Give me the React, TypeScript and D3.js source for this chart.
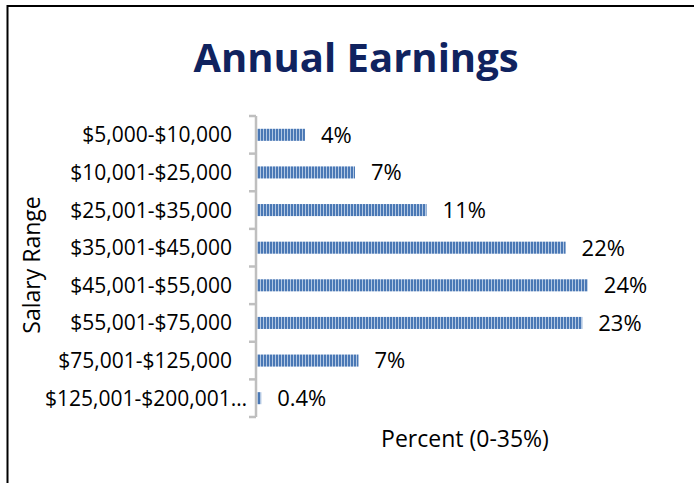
import * as d3 from "d3";
import { useEffect, useRef } from "react";

// data (bar lengths estimated, labels as shown)
const categories = [
  "$5,000-$10,000",
  "$10,001-$25,000",
  "$25,001-$35,000",
  "$35,001-$45,000",
  "$45,001-$55,000",
  "$55,001-$75,000",
  "$75,001-$125,000",
  "$125,001-$200,001…",
];
const values = [3.45, 7.05, 12.2, 22.2, 23.8, 23.4, 7.3, 0.3];
const valueLabels = ["4%", "7%", "11%", "22%", "24%", "23%", "7%", "0.4%"];

const W = 694;
const H = 483;
const FONT = "'Open Sans', 'Noto Sans', sans-serif";

const App = () => {
  const ref = useRef<SVGSVGElement | null>(null);

  useEffect(() => {
    const svg = d3.select(ref.current);
    svg.selectAll("*").remove();

    const x = d3.scaleLinear().domain([0, 30]).range([257, 257 + 30 * 13.9]);
    const y = d3
      .scaleBand()
      .domain(categories)
      .range([116, 417])
      .paddingInner(0.68)
      .paddingOuter(0.34);

    const defs = svg.append("defs");
    const pat = defs
      .append("pattern")
      .attr("id", "stripes")
      .attr("patternUnits", "userSpaceOnUse")
      .attr("width", 3)
      .attr("height", 20);
    pat.append("rect").attr("width", 3).attr("height", 20).attr("fill", "#4a78b5");
    pat.append("rect").attr("x", 2).attr("width", 1).attr("height", 20).attr("fill", "#b3c8e3");

    svg.append("rect").attr("width", W).attr("height", H).attr("fill", "#fff");

    // frame
    svg.append("rect")
      .attr("x", 7.5)
      .attr("y", 6)
      .attr("width", 800)
      .attr("height", 600)
      .attr("fill", "none")
      .attr("stroke", "#000")
      .attr("stroke-width", 2);

    svg.append("text")
      .attr("x", 356)
      .attr("y", 72)
      .attr("text-anchor", "middle")
      .attr("font-family", FONT)
      .attr("font-weight", "bold")
      .attr("font-size", 40)
      .attr("fill", "#10235f")
      .text("Annual Earnings");

    // bars
    svg.selectAll(".bar")
      .data(values)
      .enter()
      .append("rect")
      .attr("class", "bar")
      .attr("x", x(0))
      .attr("y", (d, i) => y(categories[i])!)
      .attr("width", d => x(d) - x(0))
      .attr("height", y.bandwidth())
      .attr("fill", "url(#stripes)");

    svg.selectAll(".vlab")
      .data(values)
      .enter()
      .append("text")
      .attr("class", "vlab")
      .attr("x", d => x(d) + 16)
      .attr("y", (d, i) => y(categories[i])! + y.bandwidth() / 2)
      .attr("dy", "0.36em")
      .attr("font-family", FONT)
      .attr("font-size", 22)
      .attr("fill", "#000")
      .text((d, i) => valueLabels[i]);

    // category axis
    const step = y.step();
    const ticks = d3.range(categories.length + 1).map(i => 116 + i * step);
    const ax = svg.append("g").attr("stroke", "#bfbfbf").attr("stroke-width", 2.5);
    ax.append("line").attr("x1", 256).attr("x2", 256).attr("y1", 116).attr("y2", 417);
    ax.selectAll(".tick")
      .data(ticks)
      .enter()
      .append("line")
      .attr("x1", 249)
      .attr("x2", 256)
      .attr("y1", d => d)
      .attr("y2", d => d);

    // truncated label sits closer to the axis, like in the original
    svg.selectAll(".clab")
      .data(categories)
      .enter()
      .append("text")
      .attr("class", "clab")
      .attr("x", d => (d.endsWith("…") ? 247 : 232))
      .attr("y", d => y(d)! + y.bandwidth() / 2)
      .attr("dy", "0.36em")
      .attr("text-anchor", "end")
      .attr("font-family", FONT)
      .attr("font-size", 21)
      .attr("fill", "#000")
      .text(d => d);

    svg.append("text")
      .attr("transform", "translate(40,265) rotate(-90)")
      .attr("text-anchor", "middle")
      .attr("font-family", FONT)
      .attr("font-size", 23)
      .attr("fill", "#000")
      .text("Salary Range");

    svg.append("text")
      .attr("x", 465)
      .attr("y", 447)
      .attr("text-anchor", "middle")
      .attr("font-family", FONT)
      .attr("font-size", 23)
      .attr("fill", "#000")
      .text("Percent (0-35%)");
  }, []);

  return (
    <svg
      ref={ref}
      width={W}
      height={H}
      style={{ position: "absolute", left: 0, top: 0, display: "block" }}
    ></svg>
  );
};

export default App;
